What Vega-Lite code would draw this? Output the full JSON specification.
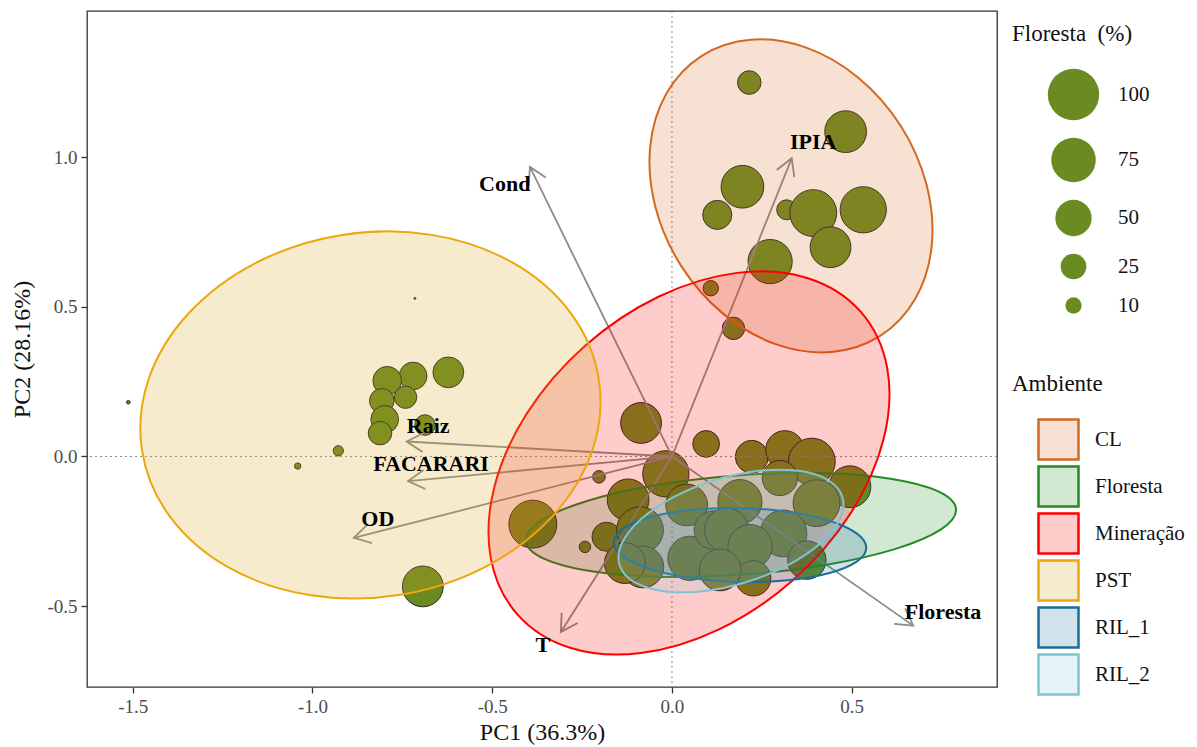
{
  "$schema": "https://vega.github.io/schema/vega-lite/v6.json",
  "width": 910,
  "height": 676,
  "autosize": {"type": "none"},
  "padding": {"left": 87, "top": 11, "right": 200, "bottom": 60},
  "background": "white",
  "config": {
    "font": "Liberation Serif",
    "view": {"stroke": "#333333", "strokeWidth": 1.3},
    "axis": {"domain": false, "grid": false, "tickColor": "#333333", "tickWidth": 1.3, "tickSize": 6,
      "labelColor": "#4d4d4d", "labelFont": "Liberation Serif", "labelFontSize": 19,
      "titleFont": "Liberation Serif", "titleFontSize": 24, "titleFontWeight": "normal", "titleColor": "#111111"},
    "legend": {"labelFont": "Liberation Serif", "labelFontSize": 21, "labelColor": "#111111",
      "titleFont": "Liberation Serif", "titleFontSize": 23, "titleFontWeight": "normal", "titleColor": "#111111"}
  },
  "datasets": {
    "pts": [
      {"PC1": 0.215, "PC2": 1.249, "Floresta": 21, "Ambiente": "CL"},
      {"PC1": 0.483, "PC2": 1.085, "Floresta": 66, "Ambiente": "CL"},
      {"PC1": 0.196, "PC2": 0.901, "Floresta": 69, "Ambiente": "CL"},
      {"PC1": 0.126, "PC2": 0.807, "Floresta": 32, "Ambiente": "CL"},
      {"PC1": 0.319, "PC2": 0.824, "Floresta": 15, "Ambiente": "CL"},
      {"PC1": 0.393, "PC2": 0.813, "Floresta": 83, "Ambiente": "CL"},
      {"PC1": 0.532, "PC2": 0.824, "Floresta": 81, "Ambiente": "CL"},
      {"PC1": 0.441, "PC2": 0.699, "Floresta": 63, "Ambiente": "CL"},
      {"PC1": 0.273, "PC2": 0.651, "Floresta": 74, "Ambiente": "CL"},
      {"PC1": 0.108, "PC2": 0.562, "Floresta": 9, "Ambiente": "CL"},
      {"PC1": 0.171, "PC2": 0.428, "Floresta": 19, "Ambiente": "CL"},
      {"PC1": -0.622, "PC2": 0.281, "Floresta": 36, "Ambiente": "PST"},
      {"PC1": -0.720, "PC2": 0.269, "Floresta": 29, "Ambiente": "PST"},
      {"PC1": -0.792, "PC2": 0.253, "Floresta": 31, "Ambiente": "PST"},
      {"PC1": -0.741, "PC2": 0.198, "Floresta": 19, "Ambiente": "PST"},
      {"PC1": -0.807, "PC2": 0.186, "Floresta": 23, "Ambiente": "PST"},
      {"PC1": -0.799, "PC2": 0.124, "Floresta": 29, "Ambiente": "PST"},
      {"PC1": -0.687, "PC2": 0.105, "Floresta": 16, "Ambiente": "PST"},
      {"PC1": -0.812, "PC2": 0.078, "Floresta": 21, "Ambiente": "PST"},
      {"PC1": -0.928, "PC2": 0.019, "Floresta": 4, "Ambiente": "PST"},
      {"PC1": -1.041, "PC2": -0.032, "Floresta": 1.5, "Ambiente": "PST"},
      {"PC1": -1.512, "PC2": 0.181, "Floresta": 0.5, "Ambiente": "PST"},
      {"PC1": -0.715, "PC2": 0.528, "Floresta": 0.15, "Ambiente": "PST"},
      {"PC1": -0.693, "PC2": -0.434, "Floresta": 63, "Ambiente": "PST"},
      {"PC1": -0.086, "PC2": 0.112, "Floresta": 63, "Ambiente": "Mineração"},
      {"PC1": 0.095, "PC2": 0.042, "Floresta": 27, "Ambiente": "Mineração"},
      {"PC1": -0.203, "PC2": -0.068, "Floresta": 6, "Ambiente": "Mineração"},
      {"PC1": -0.017, "PC2": -0.058, "Floresta": 81, "Ambiente": "Mineração"},
      {"PC1": -0.387, "PC2": -0.226, "Floresta": 87, "Ambiente": "Mineração"},
      {"PC1": -0.242, "PC2": -0.302, "Floresta": 5, "Ambiente": "Mineração"},
      {"PC1": -0.122, "PC2": -0.145, "Floresta": 66, "Ambiente": "Mineração"},
      {"PC1": -0.182, "PC2": -0.268, "Floresta": 32, "Ambiente": "Mineração"},
      {"PC1": -0.089, "PC2": -0.246, "Floresta": 83, "Ambiente": "Mineração"},
      {"PC1": 0.041, "PC2": -0.162, "Floresta": 66, "Ambiente": "RIL_2"},
      {"PC1": 0.050, "PC2": -0.340, "Floresta": 74, "Ambiente": "RIL_1"},
      {"PC1": -0.081, "PC2": -0.369, "Floresta": 66, "Ambiente": "RIL_1"},
      {"PC1": 0.115, "PC2": -0.246, "Floresta": 56, "Ambiente": "RIL_1"},
      {"PC1": 0.222, "PC2": -0.001, "Floresta": 41, "Ambiente": "Mineração"},
      {"PC1": 0.314, "PC2": 0.022, "Floresta": 56, "Ambiente": "Mineração"},
      {"PC1": 0.389, "PC2": -0.017, "Floresta": 83, "Ambiente": "Mineração"},
      {"PC1": 0.495, "PC2": -0.101, "Floresta": 66, "Ambiente": "Floresta"},
      {"PC1": 0.300, "PC2": -0.072, "Floresta": 47, "Ambiente": "Floresta"},
      {"PC1": 0.402, "PC2": -0.156, "Floresta": 83, "Ambiente": "Floresta"},
      {"PC1": 0.189, "PC2": -0.151, "Floresta": 74, "Ambiente": "RIL_2"},
      {"PC1": 0.310, "PC2": -0.257, "Floresta": 83, "Ambiente": "RIL_1"},
      {"PC1": 0.152, "PC2": -0.246, "Floresta": 74, "Ambiente": "RIL_2"},
      {"PC1": 0.217, "PC2": -0.301, "Floresta": 74, "Ambiente": "RIL_1"},
      {"PC1": 0.375, "PC2": -0.346, "Floresta": 56, "Ambiente": "Floresta"},
      {"PC1": 0.226, "PC2": -0.407, "Floresta": 47, "Ambiente": "Floresta"},
      {"PC1": 0.134, "PC2": -0.379, "Floresta": 66, "Ambiente": "RIL_2"},
      {"PC1": -0.131, "PC2": -0.356, "Floresta": 63, "Ambiente": "Floresta"}
    ],
    "ell": [
      {"Ambiente": "CL", "i": 0, "PC1": 0.5791, "PC2": 0.4026},
      {"Ambiente": "CL", "i": 1, "PC1": 0.6771, "PC2": 0.5276},
      {"Ambiente": "CL", "i": 2, "PC1": 0.7225, "PC2": 0.7049},
      {"Ambiente": "CL", "i": 3, "PC1": 0.7081, "PC2": 0.9073},
      {"Ambiente": "CL", "i": 4, "PC1": 0.6365, "PC2": 1.1041},
      {"Ambiente": "CL", "i": 5, "PC1": 0.5183, "PC2": 1.2653},
      {"Ambiente": "CL", "i": 6, "PC1": 0.3716, "PC2": 1.3664},
      {"Ambiente": "CL", "i": 7, "PC1": 0.2187, "PC2": 1.3920},
      {"Ambiente": "CL", "i": 8, "PC1": 0.0829, "PC2": 1.3382},
      {"Ambiente": "CL", "i": 9, "PC1": -0.0151, "PC2": 1.2132},
      {"Ambiente": "CL", "i": 10, "PC1": -0.0605, "PC2": 1.0359},
      {"Ambiente": "CL", "i": 11, "PC1": -0.0461, "PC2": 0.8335},
      {"Ambiente": "CL", "i": 12, "PC1": 0.0255, "PC2": 0.6367},
      {"Ambiente": "CL", "i": 13, "PC1": 0.1437, "PC2": 0.4755},
      {"Ambiente": "CL", "i": 14, "PC1": 0.2904, "PC2": 0.3744},
      {"Ambiente": "CL", "i": 15, "PC1": 0.4433, "PC2": 0.3488},
      {"Ambiente": "Floresta", "i": 0, "PC1": 0.7900, "PC2": -0.1759},
      {"Ambiente": "Floresta", "i": 1, "PC1": 0.7406, "PC2": -0.1166},
      {"Ambiente": "Floresta", "i": 2, "PC1": 0.6076, "PC2": -0.0743},
      {"Ambiente": "Floresta", "i": 3, "PC1": 0.4114, "PC2": -0.0556},
      {"Ambiente": "Floresta", "i": 4, "PC1": 0.1817, "PC2": -0.0633},
      {"Ambiente": "Floresta", "i": 5, "PC1": -0.0464, "PC2": -0.0962},
      {"Ambiente": "Floresta", "i": 6, "PC1": -0.2382, "PC2": -0.1493},
      {"Ambiente": "Floresta", "i": 7, "PC1": -0.3646, "PC2": -0.2144},
      {"Ambiente": "Floresta", "i": 8, "PC1": -0.4062, "PC2": -0.2819},
      {"Ambiente": "Floresta", "i": 9, "PC1": -0.3568, "PC2": -0.3412},
      {"Ambiente": "Floresta", "i": 10, "PC1": -0.2238, "PC2": -0.3835},
      {"Ambiente": "Floresta", "i": 11, "PC1": -0.0276, "PC2": -0.4022},
      {"Ambiente": "Floresta", "i": 12, "PC1": 0.2021, "PC2": -0.3945},
      {"Ambiente": "Floresta", "i": 13, "PC1": 0.4302, "PC2": -0.3616},
      {"Ambiente": "Floresta", "i": 14, "PC1": 0.6220, "PC2": -0.3085},
      {"Ambiente": "Floresta", "i": 15, "PC1": 0.7484, "PC2": -0.2434},
      {"Ambiente": "Mineração", "i": 0, "PC1": 0.5247, "PC2": 0.4838},
      {"Ambiente": "Mineração", "i": 1, "PC1": 0.3781, "PC2": 0.5955},
      {"Ambiente": "Mineração", "i": 2, "PC1": 0.1812, "PC2": 0.6133},
      {"Ambiente": "Mineração", "i": 3, "PC1": -0.0362, "PC2": 0.5344},
      {"Ambiente": "Mineração", "i": 4, "PC1": -0.2408, "PC2": 0.3708},
      {"Ambiente": "Mineração", "i": 5, "PC1": -0.4016, "PC2": 0.1474},
      {"Ambiente": "Mineração", "i": 6, "PC1": -0.4940, "PC2": -0.1016},
      {"Ambiente": "Mineração", "i": 7, "PC1": -0.5041, "PC2": -0.3385},
      {"Ambiente": "Mineração", "i": 8, "PC1": -0.4301, "PC2": -0.5272},
      {"Ambiente": "Mineração", "i": 9, "PC1": -0.2835, "PC2": -0.6389},
      {"Ambiente": "Mineração", "i": 10, "PC1": -0.0866, "PC2": -0.6567},
      {"Ambiente": "Mineração", "i": 11, "PC1": 0.1308, "PC2": -0.5778},
      {"Ambiente": "Mineração", "i": 12, "PC1": 0.3354, "PC2": -0.4142},
      {"Ambiente": "Mineração", "i": 13, "PC1": 0.4962, "PC2": -0.1908},
      {"Ambiente": "Mineração", "i": 14, "PC1": 0.5886, "PC2": 0.0582},
      {"Ambiente": "Mineração", "i": 15, "PC1": 0.5987, "PC2": 0.2951},
      {"Ambiente": "PST", "i": 0, "PC1": -0.2036, "PC2": 0.2587},
      {"Ambiente": "PST", "i": 1, "PC1": -0.2821, "PC2": 0.4798},
      {"Ambiente": "PST", "i": 2, "PC1": -0.4453, "PC2": 0.6488},
      {"Ambiente": "PST", "i": 3, "PC1": -0.6684, "PC2": 0.7402},
      {"Ambiente": "PST", "i": 4, "PC1": -0.9175, "PC2": 0.7401},
      {"Ambiente": "PST", "i": 5, "PC1": -1.1546, "PC2": 0.6484},
      {"Ambiente": "PST", "i": 6, "PC1": -1.3435, "PC2": 0.4791},
      {"Ambiente": "PST", "i": 7, "PC1": -1.4557, "PC2": 0.2580},
      {"Ambiente": "PST", "i": 8, "PC1": -1.4738, "PC2": 0.0187},
      {"Ambiente": "PST", "i": 9, "PC1": -1.3953, "PC2": -0.2024},
      {"Ambiente": "PST", "i": 10, "PC1": -1.2321, "PC2": -0.3714},
      {"Ambiente": "PST", "i": 11, "PC1": -1.0090, "PC2": -0.4628},
      {"Ambiente": "PST", "i": 12, "PC1": -0.7599, "PC2": -0.4627},
      {"Ambiente": "PST", "i": 13, "PC1": -0.5228, "PC2": -0.3710},
      {"Ambiente": "PST", "i": 14, "PC1": -0.3339, "PC2": -0.2017},
      {"Ambiente": "PST", "i": 15, "PC1": -0.2217, "PC2": 0.0194},
      {"Ambiente": "RIL_1", "i": 0, "PC1": 0.5404, "PC2": -0.3058},
      {"Ambiente": "RIL_1", "i": 1, "PC1": 0.5146, "PC2": -0.2578},
      {"Ambiente": "RIL_1", "i": 2, "PC1": 0.4393, "PC2": -0.2157},
      {"Ambiente": "RIL_1", "i": 3, "PC1": 0.3259, "PC2": -0.1857},
      {"Ambiente": "RIL_1", "i": 4, "PC1": 0.1917, "PC2": -0.1724},
      {"Ambiente": "RIL_1", "i": 5, "PC1": 0.0571, "PC2": -0.1779},
      {"Ambiente": "RIL_1", "i": 6, "PC1": -0.0574, "PC2": -0.2014},
      {"Ambiente": "RIL_1", "i": 7, "PC1": -0.1344, "PC2": -0.2392},
      {"Ambiente": "RIL_1", "i": 8, "PC1": -0.1620, "PC2": -0.2856},
      {"Ambiente": "RIL_1", "i": 9, "PC1": -0.1362, "PC2": -0.3336},
      {"Ambiente": "RIL_1", "i": 10, "PC1": -0.0609, "PC2": -0.3757},
      {"Ambiente": "RIL_1", "i": 11, "PC1": 0.0525, "PC2": -0.4057},
      {"Ambiente": "RIL_1", "i": 12, "PC1": 0.1867, "PC2": -0.4190},
      {"Ambiente": "RIL_1", "i": 13, "PC1": 0.3213, "PC2": -0.4135},
      {"Ambiente": "RIL_1", "i": 14, "PC1": 0.4358, "PC2": -0.3900},
      {"Ambiente": "RIL_1", "i": 15, "PC1": 0.5128, "PC2": -0.3522},
      {"Ambiente": "RIL_2", "i": 0, "PC1": 0.4740, "PC2": -0.1351},
      {"Ambiente": "RIL_2", "i": 1, "PC1": 0.4338, "PC2": -0.0786},
      {"Ambiente": "RIL_2", "i": 2, "PC1": 0.3525, "PC2": -0.0480},
      {"Ambiente": "RIL_2", "i": 3, "PC1": 0.2426, "PC2": -0.0480},
      {"Ambiente": "RIL_2", "i": 4, "PC1": 0.1207, "PC2": -0.0786},
      {"Ambiente": "RIL_2", "i": 5, "PC1": 0.0054, "PC2": -0.1352},
      {"Ambiente": "RIL_2", "i": 6, "PC1": -0.0857, "PC2": -0.2089},
      {"Ambiente": "RIL_2", "i": 7, "PC1": -0.1388, "PC2": -0.2888},
      {"Ambiente": "RIL_2", "i": 8, "PC1": -0.1458, "PC2": -0.3627},
      {"Ambiente": "RIL_2", "i": 9, "PC1": -0.1056, "PC2": -0.4192},
      {"Ambiente": "RIL_2", "i": 10, "PC1": -0.0243, "PC2": -0.4498},
      {"Ambiente": "RIL_2", "i": 11, "PC1": 0.0856, "PC2": -0.4498},
      {"Ambiente": "RIL_2", "i": 12, "PC1": 0.2075, "PC2": -0.4192},
      {"Ambiente": "RIL_2", "i": 13, "PC1": 0.3228, "PC2": -0.3626},
      {"Ambiente": "RIL_2", "i": 14, "PC1": 0.4139, "PC2": -0.2889},
      {"Ambiente": "RIL_2", "i": 15, "PC1": 0.4670, "PC2": -0.2090}
    ],
    "vec": [
      {"var": "Cond", "PC1": -0.395, "PC2": 0.967, "lx": -0.465, "ly": 0.910},
      {"var": "IPIA", "PC1": 0.333, "PC2": 0.996, "lx": 0.393, "ly": 1.052},
      {"var": "Raiz", "PC1": -0.738, "PC2": 0.050, "lx": -0.678, "ly": 0.102},
      {"var": "FACARARI", "PC1": -0.734, "PC2": -0.082, "lx": -0.670, "ly": -0.025},
      {"var": "OD", "PC1": -0.885, "PC2": -0.272, "lx": -0.818, "ly": -0.209},
      {"var": "T", "PC1": -0.309, "PC2": -0.586, "lx": -0.359, "ly": -0.630},
      {"var": "Floresta", "PC1": 0.671, "PC2": -0.565, "lx": 0.754, "ly": -0.518}
    ]
  },
  "layer": [
    {
      "data": {"name": "pts"},
      "mark": {"type": "circle", "opacity": 1, "fill": "#698B22", "stroke": "#262626", "strokeWidth": 1},
      "encoding": {
        "x": {"field": "PC1", "type": "quantitative", "title": "PC1 (36.3%)",
          "scale": {"domain": [-1.627, 0.904], "nice": false, "zero": false},
          "axis": {"values": [-1.5, -1, -0.5, 0, 0.5], "labelExpr": "(datum.value < 0 ? '-' : '') + format(abs(datum.value), '.1f')", "labelPadding": 4, "titlePadding": 4}},
        "y": {"field": "PC2", "type": "quantitative", "title": "PC2 (28.16%)",
          "scale": {"domain": [-0.770, 1.488], "nice": false, "zero": false},
          "axis": {"values": [-0.5, 0, 0.5, 1], "labelExpr": "(datum.value < 0 ? '-' : '') + format(abs(datum.value), '.1f')", "labelPadding": 4, "titlePadding": 12}},
        "size": {"field": "Floresta", "type": "quantitative",
          "scale": {"domain": [0, 100], "range": [0, 2642], "zero": true},
          "legend": {"title": "Floresta\u00a0 (%)", "values": [100, 75, 50, 25, 10], "orient": "none", "legendX": 925, "legendY": 12,
            "titleFont": "Liberation Serif", "labelFont": "Liberation Serif", "titleFontSize": 23, "labelFontSize": 21,
            "symbolFillColor": "#698B22", "symbolStrokeColor": "#262626", "symbolStrokeWidth": 1, "symbolOpacity": 1,
            "symbolOffset": 35, "labelOffset": 18, "titlePadding": 22, "rowPadding": 12}}
      }
    },
    {
      "data": {"values": [{}]},
      "mark": {"type": "rule", "color": "#8a8a8a", "strokeWidth": 1, "strokeDash": [2, 3]},
      "encoding": {"x": {"datum": 0, "type": "quantitative"}}
    },
    {
      "data": {"values": [{}]},
      "mark": {"type": "rule", "color": "#8a8a8a", "strokeWidth": 1, "strokeDash": [2, 3]},
      "encoding": {"y": {"datum": 0, "type": "quantitative"}}
    },
    {
      "data": {"name": "vec"},
      "mark": {"type": "rule", "color": "#8c8c8c", "strokeWidth": 1.8},
      "encoding": {
        "x": {"field": "PC1", "type": "quantitative", "title": "PC1 (36.3%)"},
        "y": {"field": "PC2", "type": "quantitative", "title": "PC2 (28.16%)"},
        "x2": {"datum": 0},
        "y2": {"datum": 0}
      }
    },
    {
      "data": {"name": "vec"},
      "mark": {"type": "point", "shape": "M-0.475,0.825L0,0L0.475,0.825", "size": 1600, "filled": false, "opacity": 1,
        "stroke": "#8c8c8c", "strokeWidth": 1.8,
        "angle": {"expr": "atan2(scale('x', datum.PC1) - scale('x', 0), scale('y', 0) - scale('y', datum.PC2)) * 180 / PI"}},
      "encoding": {
        "x": {"field": "PC1", "type": "quantitative", "title": "PC1 (36.3%)"},
        "y": {"field": "PC2", "type": "quantitative", "title": "PC2 (28.16%)"}
      }
    },
    {
      "data": {"name": "ell"},
      "mark": {"type": "line", "interpolate": "cardinal-closed", "strokeWidth": 2, "opacity": 1},
      "encoding": {
        "x": {"field": "PC1", "type": "quantitative", "title": "PC1 (36.3%)"},
        "y": {"field": "PC2", "type": "quantitative", "title": "PC2 (28.16%)"},
        "order": {"field": "i", "type": "quantitative"},
        "fill": {"field": "Ambiente", "type": "nominal",
          "scale": {"domain": ["CL", "Floresta", "Mineração", "PST", "RIL_1", "RIL_2"],
            "range": ["rgba(210,105,30,0.2)", "rgba(34,139,34,0.2)", "rgba(255,0,0,0.2)", "rgba(218,165,32,0.22)", "rgba(26,110,154,0.2)", "rgba(124,198,212,0.2)"]},
          "legend": {"title": "Ambiente", "orient": "none", "legendX": 925, "legendY": 362, "symbolType": "square", "symbolSize": 1600,
            "titleFont": "Liberation Serif", "labelFont": "Liberation Serif", "titleFontSize": 23, "labelFontSize": 21,
            "symbolStrokeWidth": 2.5, "symbolOffset": 25, "labelOffset": 15, "titlePadding": 22, "rowPadding": -14}},
        "stroke": {"field": "Ambiente", "type": "nominal",
          "scale": {"domain": ["CL", "Floresta", "Mineração", "PST", "RIL_1", "RIL_2"],
            "range": ["#D2691E", "#228B22", "#FF0000", "#EBA70C", "#1A6E9A", "#7CC6D4"]},
          "legend": {"title": "Ambiente", "orient": "none", "legendX": 925, "legendY": 362, "symbolType": "square", "symbolSize": 1600,
            "titleFont": "Liberation Serif", "labelFont": "Liberation Serif", "titleFontSize": 23, "labelFontSize": 21,
            "symbolStrokeWidth": 2.5, "symbolOffset": 25, "labelOffset": 15, "titlePadding": 22, "rowPadding": -14}}
      }
    },
    {
      "data": {"name": "vec"},
      "mark": {"type": "text", "font": "Liberation Serif", "fontSize": 22, "fontWeight": "bold", "color": "#000000"},
      "encoding": {
        "x": {"field": "lx", "type": "quantitative", "title": "PC1 (36.3%)"},
        "y": {"field": "ly", "type": "quantitative", "title": "PC2 (28.16%)"},
        "text": {"field": "var"}
      }
    }
  ]
}
